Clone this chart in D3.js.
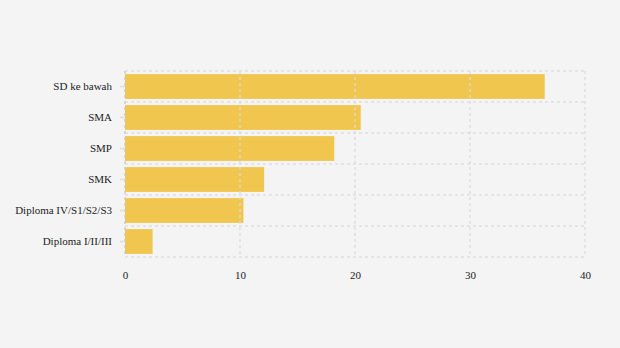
<!DOCTYPE html>
<html>
<head>
<meta charset="utf-8">
<script src="https://cdn.jsdelivr.net/npm/d3@7"></script>
<style>
  body { margin: 0; background: #f4f4f4; }
  .axis text { font-family: "Liberation Serif", "Times New Roman", serif; font-size: 11px; fill: #222; }
</style>
</head>
<body>
<div id="chart-area"></div>
<script>
// education levels and their values
let categories = ['SD ke bawah', 'SMA', 'SMP', 'SMK', 'Diploma IV/S1/S2/S3', 'Diploma I/II/III'];
let values = [36.5, 20.5, 18.2, 12.1, 10.3, 2.4];
let xTicks = [0, 10, 20, 30, 40];

let margin = { top: 71, right: 35, bottom: 91, left: 125 };
let width = 620 - margin.left - margin.right,
  height = 348 - margin.top - margin.bottom;

let svg = d3
  .select('#chart-area')
  .append('svg')
  .attr('width', 620)
  .attr('height', 348)
  .style('background', '#f4f4f4');

let g = svg.append('g')
  .attr('transform', 'translate(' + margin.left + ',' + margin.top + ')');

let x = d3.scaleLinear().domain([0, 40]).range([0, width]);
let y = d3.scaleBand().domain(categories).range([0, height]).paddingInner(0.2).paddingOuter(0.1);

let data = categories.map((c, i) => ({ name: c, value: values[i] }));

// bars
g.selectAll('rect.bar')
  .data(data)
  .enter()
  .append('rect')
  .attr('class', 'bar')
  .attr('x', x(0))
  .attr('y', d => y(d.name))
  .attr('width', d => x(d.value) - x(0))
  .attr('height', y.bandwidth())
  .attr('fill', '#f0c64f');

// dashed grid, drawn over the bars
let step = y.step();
let rowLines = d3.range(categories.length + 1).map(i => i * step);
g.selectAll('line.hgrid')
  .data(rowLines)
  .enter()
  .append('line')
  .attr('x1', 0)
  .attr('x2', width)
  .attr('y1', d => d)
  .attr('y2', d => d)
  .attr('stroke', '#dcdcdc')
  .attr('stroke-width', 1.5)
  .attr('stroke-dasharray', '3,3')
  .attr('opacity', 0.85);

g.selectAll('line.vgrid')
  .data(xTicks)
  .enter()
  .append('line')
  .attr('x1', d => x(d))
  .attr('x2', d => x(d))
  .attr('y1', 0)
  .attr('y2', height)
  .attr('stroke', d => d === 0 ? '#c8c8c8' : '#dcdcdc')
  .attr('stroke-width', 1.5)
  .attr('stroke-dasharray', '3,3')
  .attr('opacity', 0.85);

// y axis
let yAxis = d3.axisLeft(y).tickSize(6).tickPadding(7);
let ySvg = g.append('g').attr('class', 'axis').call(yAxis);
ySvg.select('.domain').remove();
ySvg.selectAll('.tick line').attr('stroke', '#dedede').attr('stroke-width', 1.5).attr('x2', -5);

// x axis
let xAxis = d3.axisBottom(x).tickValues(xTicks).tickSize(0).tickPadding(14);
let xSvg = g.append('g')
  .attr('class', 'axis')
  .attr('transform', 'translate(0,' + height + ')')
  .call(xAxis);
xSvg.select('.domain').remove();
</script>
</body>
</html>
